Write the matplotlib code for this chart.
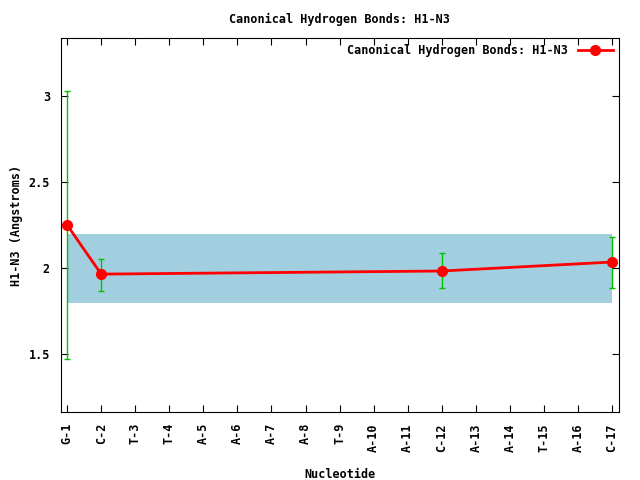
import matplotlib
matplotlib.use('Agg')
import matplotlib.pyplot as plt

# Данные
nucleotides = ['G-1', 'C-2', 'T-3', 'T-4', 'A-5', 'A-6', 'A-7', 'A-8', 'T-9',
               'A-10', 'A-11', 'C-12', 'A-13', 'A-14', 'T-15', 'A-16', 'C-17']
positions = [1, 2, 12, 17]
distances = [2.25, 1.965, 1.983, 2.035]
err_low = [1.47, 1.866, 1.882, 1.882]
err_high = [3.03, 2.054, 2.085, 2.178]
band_low = 1.8
band_high = 2.2

plt.rcParams['font.family'] = ['DejaVu Sans Mono']
plt.rcParams['font.size'] = 8.5
plt.rcParams['font.weight'] = 'bold'
plt.rcParams['axes.labelweight'] = 'bold'
plt.rcParams['axes.titleweight'] = 'bold'

fig = plt.figure(figsize=(6.4, 4.8), dpi=100)
ax = fig.add_axes([0.0953, 0.1417, 0.8717, 0.7791])

x0, x1 = 0.82, 17.2
ax.axhspan(band_low, band_high, xmin=(1 - x0) / (x1 - x0), xmax=(17 - x0) / (x1 - x0),
           color='#a2cfdf', lw=0, zorder=1)

yerr = [[d - lo for d, lo in zip(distances, err_low)],
        [hi - d for d, hi in zip(distances, err_high)]]
ax.errorbar(positions, distances, yerr=yerr, fmt='none', ecolor='#00c000',
            elinewidth=1, capsize=2.5, capthick=1, zorder=2)
ax.plot(positions, distances, color='red', lw=2, marker='o', markersize=7,
        label='Canonical Hydrogen Bonds: H1-N3', zorder=3)

ax.set_xlim(x0, x1)
ax.set_ylim(1.165, 3.335)
ax.set_xticks(range(1, len(nucleotides) + 1))
ax.set_xticklabels(nucleotides, rotation=90)
ax.set_yticks([1.5, 2, 2.5, 3])
ax.set_yticklabels(['1.5', '2', '2.5', '3'])
ax.tick_params(direction='in', top=True, right=True, length=5, pad=8)

ax.set_title('Canonical Hydrogen Bonds: H1-N3', pad=11, fontsize=8.5, fontweight='bold')
ax.set_xlabel('Nucleotide', labelpad=12, fontweight='bold')
ax.set_ylabel('H1-N3 (Angstroms)', labelpad=4, fontweight='bold')

ax.legend(loc='upper right', frameon=False, markerfirst=False, handlelength=3,
          borderaxespad=0.1)

plt.savefig('out.png', dpi=100)
